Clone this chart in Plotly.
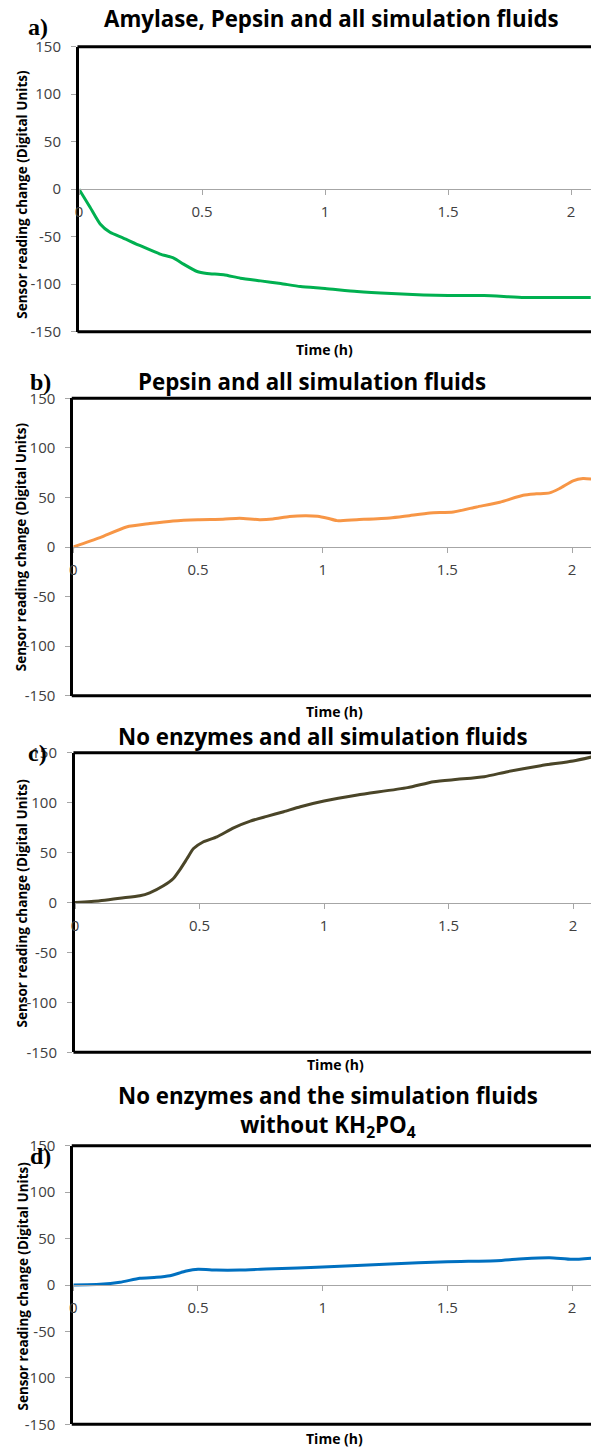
import plotly.graph_objects as go

# ---------------- data ----------------
titles = [
    "Amylase, Pepsin and all simulation fluids",
    "Pepsin and all simulation fluids",
    "No enzymes and all simulation fluids",
    "No enzymes and the simulation fluids<br>without KH<sub>2</sub>PO<sub>4</sub>",
]
letters = ["a)", "b)", "c)", "d)"]
colors = ["#00B050", "#F79646", "#4A4528", "#0070C0"]

y_tick_vals = [-150, -100, -50, 0, 50, 100, 150]
y_tick_text = ["-150", "-100", "-50", "0", "50", "100", "150"]
x_tick_vals = [0, 0.5, 1, 1.5, 2]
x_tick_text = ["0", "0.5", "1", "1.5", "2"]

t_a = [0, 0.045, 0.086, 0.126, 0.18, 0.249, 0.33, 0.385, 0.425, 0.48, 0.52, 0.588,
       0.656, 0.738, 0.82, 0.9, 1.0, 1.13, 1.27, 1.4, 1.5, 1.646, 1.81, 2.0, 2.08]
y_a = [0, -19, -36.6, -45.4, -51.4, -59.5, -68.3, -72.5, -78.9, -86.6, -88.7, -90.1,
       -93.7, -96.5, -99.3, -102.5, -104.5, -107.7, -109.9, -111.3, -112, -112, -114, -114, -114]

t_b = [0, 0.107, 0.213, 0.307, 0.4, 0.5, 0.6, 0.667, 0.747, 0.8, 0.867, 0.93, 0.98, 1.02,
       1.057, 1.137, 1.27, 1.337, 1.43, 1.524, 1.617, 1.71, 1.804, 1.857, 1.91, 1.95,
       2.004, 2.044, 2.08]
y_b = [0, 9.4, 20.2, 23.6, 26.3, 27.6, 28, 29, 27.6, 28.3, 30.7, 31.5, 31, 29,
       26.6, 27.6, 29.3, 31.3, 34.4, 35.4, 40.4, 45.2, 52.2, 53.6, 54.6, 59,
       66.7, 69, 68.4]

t_c = [0, 0.1, 0.18, 0.26, 0.3, 0.355, 0.395, 0.42, 0.45, 0.476, 0.516, 0.57, 0.637,
       0.704, 0.77, 0.838, 0.905, 1.0, 1.134, 1.335, 1.44, 1.536, 1.643, 1.737, 1.87, 2.0, 2.08]
y_c = [0, 1.7, 4.3, 6.7, 9.7, 16.7, 24, 32.4, 44, 54, 60.8, 65.8, 74.8,
       81.5, 86.2, 90.9, 95.9, 101.6, 107.6, 115, 121, 123.3, 126, 131, 137, 141.7, 146]

t_d = [0, 0.107, 0.187, 0.267, 0.333, 0.387, 0.453, 0.5, 0.573, 0.667, 0.773, 0.9, 1.0,
       1.27, 1.5, 1.697, 1.804, 1.91, 2.0, 2.08]
y_d = [0, 0.7, 2.9, 7.2, 8.3, 10, 15, 16.9, 16.1, 16.1, 17.2, 18.3, 19.4,
       22.6, 25.1, 26.2, 28.3, 29.4, 27.6, 29]

x_range_end = [2.081, 2.076, 2.072, 2.076]

series = [(t_a, y_a), (t_b, y_b), (t_c, y_c), (t_d, y_d)]

# ---------------- layout geometry (pixels) ----------------
W, H = 591, 1447
geo = [
    dict(top=46.7, bot=331.7, left=79.0, tx=331, ty=18.5, lx=38, ly=27.5, yx=21.7, yy=194, xx=325, xy=349.5),
    dict(top=398.3, bot=695.7, left=73.3, tx=311.5, ty=381, lx=40.5, ly=382.5, yx=21.7, yy=546.5, xx=334, xy=712),
    dict(top=752.7, bot=1052.3, left=75.0, tx=322.6, ty=736, lx=37.5, ly=753, yx=22, yy=903.5, xx=335.8, xy=1064.7),
    dict(top=1145.7, bot=1424.3, left=73.3, tx=327.5, ty=1111, lx=40, ly=1156, yx=22, yy=1286.5, xx=334, xy=1438),
]

def px(x):
    return x / W

def py(y):
    return 1 - y / H

FONT = "Open Sans"
TICK_COLOR = "#404040"
GRAY = "#A6A6A6"

fig = go.Figure()
layout = dict(
    width=W, height=H, autosize=False,
    margin=dict(l=0, r=0, t=0, b=0, pad=0, autoexpand=False),
    paper_bgcolor="white", plot_bgcolor="white",
    showlegend=False,
    font=dict(family=FONT, color=TICK_COLOR),
)
annotations = []
shapes = []

for i, g in enumerate(geo):
    n = i + 1
    sfx = "" if n == 1 else str(n)
    xid, yid = "x" + sfx, "y" + sfx
    dom_x = [px(g["left"]), 1.0]
    dom_y = [py(g["bot"]), py(g["top"])]

    # horizontal axis drawn along y = 0 (Excel style), carries the data
    layout["xaxis" + sfx] = dict(
        domain=dom_x, range=[0, x_range_end[i]], anchor="free",
        position=(dom_y[0] + dom_y[1]) / 2,
        showline=True, linecolor=GRAY, linewidth=1.3,
        ticks="outside", ticklen=5, tickwidth=1, tickcolor=GRAY,
        tickvals=x_tick_vals, ticktext=x_tick_text,
        tickfont=dict(family=FONT, size=15, color=TICK_COLOR),
        ticklabelstandoff=4, automargin=False,
        showgrid=False, zeroline=False, fixedrange=True,
    )
    layout["yaxis" + sfx] = dict(
        domain=dom_y, range=[-150, 150], anchor=xid,
        showline=True, linecolor="black", linewidth=3,
        ticks="outside", ticklen=5, tickwidth=1, tickcolor=GRAY,
        tickvals=y_tick_vals, ticktext=y_tick_text,
        tickfont=dict(family=FONT, size=15, color=TICK_COLOR),
        ticklabelstandoff=7, automargin=False,
        showgrid=False, zeroline=False, fixedrange=True,
    )

    # top and bottom frame of the plot area
    for yy in (0, 1):
        shapes.append(dict(
            type="line", xref=xid + " domain", yref=yid + " domain",
            x0=-0.003, x1=1, y0=yy, y1=yy,
            line=dict(color="black", width=3), layer="above",
        ))

    t, y = series[i]
    fig.add_trace(go.Scatter(
        x=t, y=y, mode="lines", xaxis=xid, yaxis=yid,
        line=dict(color=colors[i], width=3, shape="spline", smoothing=0.6),
        hoverinfo="x+y",
    ))

    annotations.append(dict(
        text=titles[i], x=px(g["tx"]), y=py(g["ty"]), xref="paper", yref="paper",
        xanchor="center", yanchor="middle", showarrow=False,
        font=dict(family=FONT, size=22.3, color="black", weight="bold"),
    ))
    annotations.append(dict(
        text=letters[i], x=px(g["lx"]), y=py(g["ly"]), xref="paper", yref="paper",
        xanchor="center", yanchor="middle", showarrow=False,
        font=dict(family="Liberation Serif", size=24, color="black", weight="bold"),
    ))
    annotations.append(dict(
        text="Sensor reading change (Digital Units)", x=px(g["yx"]), y=py(g["yy"]),
        xref="paper", yref="paper", xanchor="center", yanchor="middle",
        textangle=-90, showarrow=False,
        font=dict(family=FONT, size=13.5, color="black", weight="bold"),
    ))
    annotations.append(dict(
        text="Time (h)", x=px(g["xx"]), y=py(g["xy"]), xref="paper", yref="paper",
        xanchor="center", yanchor="middle", showarrow=False,
        font=dict(family=FONT, size=14, color="black", weight="bold"),
    ))

layout["annotations"] = annotations
layout["shapes"] = shapes
fig.update_layout(**layout)
fig.write_html(
    "out.html",
    config={"displayModeBar": False, "staticPlot": False},
    post_script="document.body.style.margin='0';document.body.style.overflow='hidden';",
)
